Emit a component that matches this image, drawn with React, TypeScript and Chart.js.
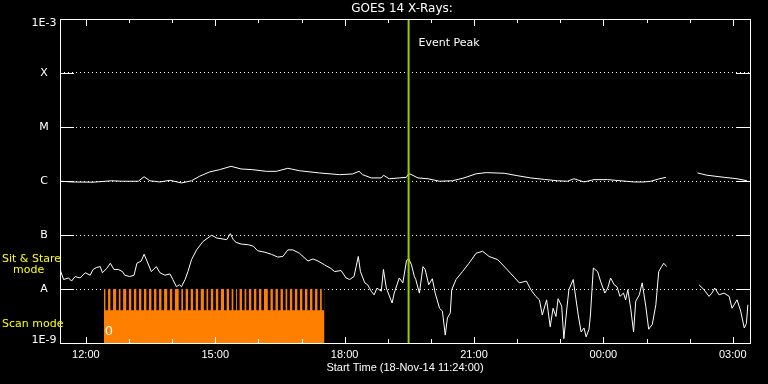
import { useEffect, useRef } from "react";
import { Chart, registerables } from "chart.js";

Chart.register(...registerables);

// ---- text ----
const TITLE = "GOES 14 X-Rays:";
const X_TITLE = "Start Time (18-Nov-14 11:24:00)";
const EVENT_LABEL = "Event Peak";
const MODE_LABELS = ["Sit & Stare", "mode", "Scan mode"];
const SCAN_MARK = "0";

// ---- axes (x in minutes since 18-Nov-14 11:24:00) ----
const X_MIN = 0;
const X_MAX = 960;
const Y_MIN = 1e-9;
const Y_MAX = 1e-3;
const hourTickMinutes = [36, 96, 156, 216, 276, 336, 396, 456, 516, 576, 636, 696, 756, 816, 876, 936];
const hourTickLabels = ["12:00", "", "", "15:00", "", "", "18:00", "", "", "21:00", "", "", "00:00", "", "", "03:00"];
const yTickValues = [1e-9, 1e-8, 1e-7, 1e-6, 1e-5, 1e-4, 1e-3];
const yTickLabels = ["1E-9", "A", "B", "C", "M", "X", "1E-3"];

// ---- long channel (1-8 A), W/m^2 ----
const longTimes = [
  0, 18, 46, 72, 86, 109, 117, 125, 139, 153,
  169, 183, 194, 208, 222, 238, 252, 268, 287, 301,
  317, 333, 361, 389, 407, 416, 421, 433, 447, 450,
  458, 472, 482, 484, 487, 498, 512, 528, 546, 562,
  579, 593, 618, 637, 655, 674, 692, 706, 715, 729,
  743, 762, 780, 799, 813, 822, 833, 843, 865, 887,
  900, 924, 942, 956,
];
const longFlux = [
  9.9e-7, 9.6e-7, 9.5e-7, 1.01e-6, 9.9e-7, 9.9e-7, 1.2e-6, 1.01e-6, 9.6e-7, 1.03e-6,
  9.2e-7, 1.01e-6, 1.22e-6, 1.47e-6, 1.62e-6, 1.87e-6, 1.67e-6, 1.62e-6, 1.51e-6, 1.51e-6,
  1.72e-6, 1.55e-6, 1.41e-6, 1.31e-6, 1.35e-6, 1.51e-6, 1.31e-6, 1.14e-6, 1.14e-6, 1.28e-6,
  1.1e-6, 1.14e-6, 1.17e-6, 1.31e-6, 1.35e-6, 1.14e-6, 1.1e-6, 9.9e-7, 1.01e-6, 1.14e-6,
  1.36e-6, 1.43e-6, 1.39e-6, 1.25e-6, 1.14e-6, 1.07e-6, 1.01e-6, 9.9e-7, 1.1e-6, 9.6e-7,
  1.06e-6, 1.06e-6, 1.01e-6, 9.6e-7, 9.6e-7, 9.9e-7, 1.09e-6, 1.17e-6, null, 1.41e-6,
  1.28e-6, 1.17e-6, 1.1e-6, 1.01e-6,
];

// ---- short channel (0.5-4 A), W/m^2 ----
const shortTimes = [
  0, 5, 12, 16, 21, 28, 35, 42, 46, 51,
  56, 59, 65, 70, 75, 81, 87, 90, 97, 103,
  107, 113, 117, 121, 127, 134, 139, 146, 153, 157,
  162, 166, 169, 174, 178, 183, 190, 199, 211, 218,
  232, 237, 241, 245, 252, 262, 269, 275, 285, 294,
  303, 310, 317, 324, 333, 345, 352, 359, 368, 377,
  382, 391, 398, 403, 409, 412, 415, 418, 424, 428,
  433, 437, 441, 447, 450, 454, 462, 465, 472, 477,
  482, 485, 489, 493, 495, 500, 505, 508, 513, 518,
  522, 528, 532, 536, 539, 543, 545, 551, 560, 569,
  579, 588, 597, 609, 620, 632, 639, 649, 655, 662,
  667, 671, 677, 682, 686, 690, 693, 698, 701, 705,
  708, 714, 718, 721, 725, 729, 732, 736, 738, 742,
  748, 752, 758, 762, 766, 771, 775, 779, 784, 787,
  790, 794, 798, 801, 806, 810, 815, 819, 824, 829,
  833, 837, 840, 844, 866, 889, 896, 903, 907, 911,
  917, 924, 931, 935, 942, 947, 952, 955, 957,
];
const shortFlux = [
  2.3e-8, 1.5e-8, 1.6e-8, 1.4e-8, 1.7e-8, 1.6e-8, 2.0e-8, 1.8e-8, 2.3e-8, 2.5e-8,
  2.6e-8, 2.0e-8, 2.4e-8, 3.0e-8, 2.3e-8, 2.3e-8, 2.1e-8, 1.8e-8, 1.7e-8, 1.8e-8,
  3.0e-8, 3.3e-8, 4.4e-8, 3.3e-8, 2.1e-8, 2.6e-8, 2.0e-8, 1.8e-8, 1.9e-8, 1.5e-8,
  1.1e-8, 1.2e-8, 1.1e-8, 1.5e-8, 2.1e-8, 3.5e-8, 5.3e-8, 7.6e-8, 9.9e-8, 8.8e-8,
  8.2e-8, 1.06e-7, 8.2e-8, 7.3e-8, 6.8e-8, 6.6e-8, 6.2e-8, 5.1e-8, 4.8e-8, 4.4e-8,
  3.9e-8, 4.0e-8, 5.3e-8, 5.3e-8, 4.6e-8, 3.3e-8, 3.6e-8, 3.3e-8, 2.8e-8, 2.4e-8,
  2.1e-8, 2.2e-8, 1.6e-8, 1.5e-8, 1.7e-8, 2.6e-8, 4.0e-8, 2.1e-8, 1.3e-8, 1.2e-8,
  9.1e-9, 7.8e-9, 1.04e-8, 9.1e-9, 2.3e-8, 1.04e-8, 5.5e-9, 8.4e-9, 1.6e-8, 1.3e-8,
  3.3e-8, 3.7e-8, 2.8e-8, 1.7e-8, 1.5e-8, 8.4e-9, 2.6e-8, 2.3e-8, 1.2e-8, 1.55e-8,
  8.4e-9, 4.4e-9, 3.9e-9, 1.4e-9, 2.9e-9, 3.6e-9, 9.7e-9, 1.5e-8, 2.1e-8, 3.0e-8,
  4.6e-8, 5.0e-8, 4.0e-8, 3.5e-8, 2.45e-8, 1.65e-8, 1.3e-8, 1.4e-8, 9.7e-9, 7.3e-9,
  6.3e-9, 3.3e-9, 6.3e-9, 2.0e-9, 4.4e-9, 3.1e-9, 6.6e-9, 4.8e-9, 1.2e-9, 4.1e-9,
  9.7e-9, 1.5e-8, 6.3e-9, 3.3e-9, 1.6e-9, 1.9e-9, 1.3e-9, 1.8e-9, 3.3e-9, 2.45e-8,
  2.1e-8, 1.4e-8, 8.4e-9, 1.04e-8, 1.6e-8, 1.2e-8, 1.1e-8, 7.3e-9, 8.4e-9, 6.3e-9,
  9.7e-9, 4.4e-9, 1.6e-9, 5.9e-9, 7.8e-9, 1.3e-8, 4.8e-9, 1.8e-9, 2.2e-9, 5.1e-9,
  2.1e-8, 2.6e-8, 3.0e-8, 2.6e-8, null, 1.2e-8, 9.7e-9, 7.3e-9, 8.4e-9, 1.04e-8,
  7.8e-9, 8.4e-9, 7.3e-9, 4.4e-9, 6.3e-9, 3.9e-9, 1.9e-9, 2.3e-9, 5.1e-9,
];

// ---- event peak & scan mode ----
const eventPeakTime = 485;
const scanStart = 61;
const scanEnd = 368;
const scanTop = 1e-8;
const stripeLow = 4.1e-9;
const stripeTimes = [
  65, 72, 80, 86, 94, 101, 108, 115, 122, 129,
  136, 143, 151, 158, 167, 173, 180, 187, 194, 202,
  208, 215, 222, 230, 237, 243, 248, 255, 261, 268,
  275, 282, 291, 298, 305, 312, 318, 325, 332, 339,
  346, 353, 360, 366,
];

const WHITE = "#ffffff";
const ORANGE = "#ff8000";
const YELLOW = "#ffff00";
const EVENT_COLOR = "#99cc00";

const decor = {
  id: "decor",
  beforeDraw(chart: any) {
    const { ctx, width, height } = chart;
    ctx.save();
    ctx.fillStyle = "#000";
    ctx.fillRect(0, 0, width, height);
    ctx.restore();
  },
  afterDraw(chart: any) {
    const { ctx, chartArea: a, scales } = chart;
    const xs = scales.x;
    const ys = scales.y;
    ctx.save();
    ctx.strokeStyle = WHITE;
    ctx.lineWidth = 1;
    ctx.strokeRect(a.left + 0.5, a.top + 0.5, a.right - a.left, a.bottom - a.top);
    ctx.beginPath();
    yTickValues.forEach((v) => {
      const py = Math.round(ys.getPixelForValue(v)) + 0.5;
      ctx.moveTo(a.left, py);
      ctx.lineTo(a.left + 14, py);
      ctx.moveTo(a.right - 14, py);
      ctx.lineTo(a.right + 1, py);
    });
    hourTickMinutes.forEach((m, i) => {
      const px = Math.round(xs.getPixelForValue(m)) + 0.5;
      const major = hourTickLabels[i] !== "";
      ctx.moveTo(px, a.top);
      ctx.lineTo(px, a.top + (major ? 7 : 4));
      ctx.moveTo(px, a.bottom);
      ctx.lineTo(px, a.bottom - (major ? 6 : 4));
    });
    ctx.stroke();

    ctx.fillStyle = WHITE;
    ctx.textBaseline = "middle";
    ctx.textAlign = "center";
    ctx.font = "11px 'DejaVu Sans'";
    yTickValues.forEach((v, i) => {
      let py = ys.getPixelForValue(v);
      if (i === yTickValues.length - 1) py += 4;
      if (i === 0) py -= 3;
      ctx.fillText(yTickLabels[i], 44, py);
    });

    ctx.font = "12px 'DejaVu Sans'";
    ctx.fillText(TITLE, 402, 9);

    ctx.textAlign = "left";
    ctx.font = "11px 'DejaVu Sans'";
    const ex = xs.getPixelForValue(eventPeakTime);
    ctx.fillText(EVENT_LABEL, ex + 10, a.top + 24);

    ctx.fillStyle = YELLOW;
    ctx.fillText(MODE_LABELS[0], 2, 259);
    ctx.fillText(MODE_LABELS[1], 13, 270);
    ctx.fillText(MODE_LABELS[2], 2, 324);

    ctx.fillStyle = WHITE;
    ctx.font = "13px 'DejaVu Sans'";
    ctx.fillText(SCAN_MARK, xs.getPixelForValue(scanStart) + 1, a.bottom - 11);
    ctx.restore();
  },
};

export default function App() {
  const ref = useRef<HTMLCanvasElement>(null);

  useEffect(() => {
    const canvas = ref.current;
    if (!canvas) return;

    const longPts = longTimes.map((t, i) => ({ x: t, y: longFlux[i] }));
    const shortPts = shortTimes.map((t, i) => ({ x: t, y: shortFlux[i] }));
    const stripePts = stripeTimes.map((t) => ({ x: t, y: [stripeLow, scanTop] }));
    const scanPts = [
      { x: scanStart, y: scanTop },
      { x: scanEnd, y: scanTop },
    ];
    const eventPts = [
      { x: eventPeakTime, y: Y_MIN },
      { x: eventPeakTime, y: Y_MAX },
    ];
    const axisFont = { family: "'Liberation Sans', Arial, sans-serif", size: 11 };

    const chart = new Chart(canvas, {
      type: "line",
      data: {
        datasets: [
          {
            type: "line",
            label: "Event Peak",
            data: eventPts,
            borderColor: EVENT_COLOR,
            borderWidth: 2,
            pointRadius: 0,
            order: 0,
          },
          {
            type: "line",
            label: "GOES 14 1.0-8.0 A",
            data: longPts,
            borderColor: WHITE,
            borderWidth: 1,
            pointRadius: 0,
            tension: 0,
            spanGaps: false,
            order: 1,
          },
          {
            type: "line",
            label: "GOES 14 0.5-4.0 A",
            data: shortPts,
            borderColor: WHITE,
            borderWidth: 1,
            pointRadius: 0,
            tension: 0,
            spanGaps: false,
            order: 1,
          },
          {
            type: "bar",
            label: "Scan stripes",
            data: stripePts,
            backgroundColor: "#000000",
            borderWidth: 0,
            barThickness: 2,
            grouped: false,
            order: 2,
          },
          {
            type: "line",
            label: "Scan mode",
            data: scanPts,
            borderWidth: 0,
            borderColor: ORANGE,
            backgroundColor: ORANGE,
            fill: "start",
            pointRadius: 0,
            order: 3,
          },
        ],
      } as any,
      options: {
        responsive: false,
        animation: false,
        events: [],
        layout: { padding: { top: 19, right: 18, left: 0, bottom: 0 } },
        plugins: {
          legend: { display: false },
          tooltip: { enabled: false },
          title: { display: false },
        },
        scales: {
          x: {
            type: "linear",
            min: X_MIN,
            max: X_MAX,
            offset: false,
            afterBuildTicks: (s: any) => {
              s.ticks = hourTickMinutes.map((v) => ({ value: v }));
            },
            afterFit: (s: any) => {
              s.height = 41;
            },
            grid: { display: false, offset: false, drawTicks: false },
            border: { display: false },
            ticks: {
              autoSkip: false,
              maxRotation: 0,
              minRotation: 0,
              padding: 5,
              color: WHITE,
              font: axisFont,
              callback: (v: any) => {
                const i = hourTickMinutes.indexOf(Number(v));
                return i >= 0 ? hourTickLabels[i] : "";
              },
            },
            title: {
              display: true,
              text: X_TITLE,
              color: WHITE,
              font: axisFont,
              padding: { top: 0, bottom: 9 },
            },
          },
          y: {
            type: "logarithmic",
            min: Y_MIN,
            max: Y_MAX,
            afterBuildTicks: (s: any) => {
              s.ticks = yTickValues.map((v) => ({ value: v }));
            },
            afterFit: (s: any) => {
              s.width = 60;
            },
            grid: { display: true, color: WHITE, lineWidth: 1, drawTicks: false },
            border: { display: false, dash: [1, 3] },
            ticks: { display: false },
          },
        },
      } as any,
      plugins: [decor],
    });

    return () => chart.destroy();
  }, []);

  return (
    <div style={{ position: "absolute", left: 0, top: 0, width: 768, height: 384 }}>
      <canvas
        ref={ref}
        width={768}
        height={384}
        style={{ display: "block", width: 768, height: 384 }}
      />
    </div>
  );
}
